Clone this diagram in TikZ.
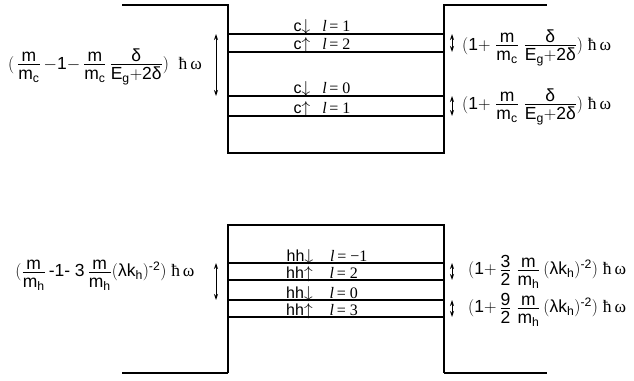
\documentclass[tikz,border=0pt]{standalone}
\usepackage{amsmath}
\usepackage{fontspec}
\setmainfont{Liberation Sans}
\newfontfamily\lserif{Liberation Serif}
\usetikzlibrary{arrows.meta}
\newcommand{\cfr}[2]{{\textstyle\frac{\displaystyle #1\rule[-2pt]{0pt}{2pt}}{\displaystyle\rule{0pt}{14pt}#2}}}
\newcommand{\mratio}[1]{\cfr{\mathrm{m}}{\mathrm{m}_{\mathrm{#1}}}}
\newcommand{\dEg}{\cfr{\text{δ}}{\mathrm{E}_{\mathrm{g}}{+}\mathrm{2}\text{δ}}}
\newcommand{\lk}{(\text{λ}\mathrm{k}_{\mathrm{h}})^{\text{-}\mathrm{2}}}
\newcommand{\hw}{\text{\lserif ħ\,ω}}
\newcommand{\qn}[1]{{\lserif\itshape l}\,{\lserif= #1}}

\begin{document}
\begin{tikzpicture}[
    x=1pt, y=-1pt,
    wall/.style={line width=1.1pt},
    floor/.style={line width=1.8pt},
    lvl/.style={line width=1.3pt},
    lvltext/.style={anchor=base, inner sep=0pt, font=\fontsize{16}{18}\selectfont},
    expr/.style={inner sep=0pt, font=\fontsize{17.5}{20}\selectfont},
    gaparrow/.style={{Stealth[length=6pt,width=4pt]}-{Stealth[length=6pt,width=4pt]}, line width=0.9pt}
]
\useasboundingbox (0,0) rectangle (634,380);

\coordinate (rw) at (444,0);
\coordinate (ax) at (216,0);
\coordinate (bx) at (452,0);

% conduction band well
\draw[wall] (122,5) -- (228,5) -- (228,153) -- (444,153) -- (444,5) -- (547,5);
% valence band barrier
\draw[wall] (228,373) -- (228,225) -- (444,225) -- (444,373);
\draw[floor] (122,373) -- (228,373);
\draw[floor] (444,373) -- (547,373);

\foreach \n/\y in {c1/34, c2/52, c3/96, c4/116, h1/263, h2/280, h3/300, h4/317} {
    \coordinate (\n) at (228,\y);
    \draw[lvl] (\n) -- (\n -| rw);
}

\node[lvltext] (tc1) at (322,31) {c$\downarrow$\hspace{12pt}\qn{1}};
\node[lvltext] (tc2) at (322,49) {c$\uparrow$\hspace{12pt}\qn{2}};
\node[lvltext] (tc3) at (322,93) {c$\downarrow$\hspace{12pt}\qn{0}};
\node[lvltext] (tc4) at (322,113) {c$\uparrow$\hspace{12pt}\qn{1}};

\node[lvltext] (th1) at (327,261) {hh$\downarrow$\hspace{17pt}\qn{−1}};
\node[lvltext] (th2) at (322,278) {hh$\uparrow$\hspace{17pt}\qn{2}};
\node[lvltext] (th3) at (322,298) {hh$\downarrow$\hspace{17pt}\qn{0}};
\node[lvltext] (th4) at (322,315) {hh$\uparrow$\hspace{17pt}\qn{3}};

\draw[gaparrow] (ax |- c1) -- (ax |- c3);
\draw[gaparrow] (bx |- c1) -- (bx |- c2);
\draw[gaparrow] (bx |- c3) -- (bx |- c4);
\draw[gaparrow] (ax |- h1) -- (ax |- h3);
\draw[gaparrow] (bx |- h1) -- (bx |- h2);
\draw[gaparrow] (bx |- h3) -- (bx |- h4);

% splittings
\node[expr] (ec) at (105,67) {$(\,\mratio{c}\,{-}\mathrm{1}{-}\,\mratio{c}\,\dEg)$\ \ \hw};
\node[expr, anchor=west] (ec1) at (462,48) {$(\mathrm{1}{+}\;\mratio{c}\;\dEg)$\ \hw};
\node[expr, anchor=west] (ec2) at (462,107) {$(\mathrm{1}{+}\;\mratio{c}\;\dEg)$\ \hw};
\node[expr] (eh) at (105,275) {$(\mratio{h}\,\text{-}\mathrm{1}\text{-}\ \mathrm{3}\,\mratio{h}\lk)$\ \hw};
\node[expr, anchor=west] (eh1) at (468,272) {$(\mathrm{1}{+}\,\cfr{\mathrm{3}}{\mathrm{2}}\;\mratio{h}\,\lk)$\ \hw};
\node[expr, anchor=west] (eh2) at (468,310) {$(\mathrm{1}{+}\,\cfr{\mathrm{9}}{\mathrm{2}}\;\mratio{h}\,\lk)$\ \hw};

\end{tikzpicture}
\end{document}
